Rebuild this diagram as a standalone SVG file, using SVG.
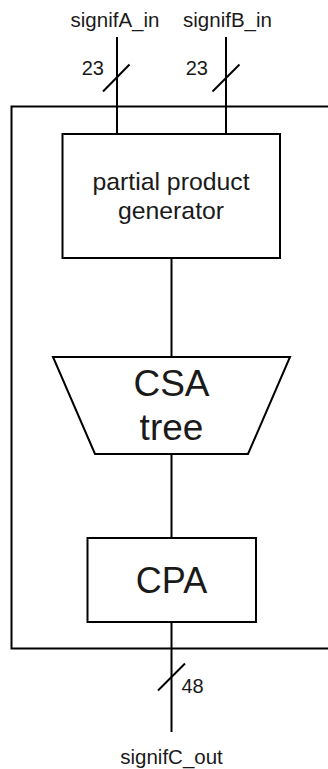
<svg xmlns="http://www.w3.org/2000/svg" width="328" height="769" viewBox="0 0 328 769">
<style>
.ln{stroke:#000;stroke-width:2;fill:none}
.bx{stroke:#000;stroke-width:2;fill:#fff}
.t{font-family:"Liberation Sans",Arial,sans-serif;fill:#1a1a1a}
.p{font-size:20.5px;text-anchor:middle}
.w{font-size:20px}
</style>
<rect width="328" height="769" fill="#fff"/>
<g id="outer"><path class="ln" d="M340 106.5 H11.5 V648.5 H340"/></g>
<g id="connectors">
<path class="ln" d="M117 37 V134"/>
<path class="ln" d="M226 37 V134"/>
<path class="ln" d="M103 91.5 L129.5 64.5"/>
<path class="ln" d="M212.5 91.5 L239.5 64.5"/>
<path class="ln" d="M171.5 258 V357"/>
<path class="ln" d="M171.5 454 V538"/>
<path class="ln" d="M171.5 622 V732"/>
<path class="ln" d="M158 690.5 L185 663.5"/>
</g>
<g id="ppg">
<rect class="bx" x="62.5" y="134" width="217.5" height="124"/>
<text class="t" x="171" y="190" font-size="24.8" text-anchor="middle">partial product</text>
<text class="t" x="171" y="219" font-size="24.8" text-anchor="middle">generator</text>
</g>
<g id="csa">
<polygon class="bx" points="53,357 290,357 248,454 95,454"/>
<text class="t" x="171.5" y="396" font-size="37" text-anchor="middle">CSA</text>
<text class="t" x="171.5" y="440" font-size="37" text-anchor="middle">tree</text>
</g>
<g id="cpa">
<rect class="bx" x="87.5" y="538" width="168.5" height="84"/>
<text class="t" x="171.5" y="593" font-size="36" text-anchor="middle">CPA</text>
</g>
<g id="labels">
<text class="t p" x="115" y="27">signifA_in</text>
<text class="t p" x="227.5" y="27">signifB_in</text>
<text class="t w" x="104" y="75" text-anchor="end">23</text>
<text class="t w" x="208" y="75" text-anchor="end">23</text>
<text class="t w" x="181.5" y="693">48</text>
<text class="t p" x="171.5" y="764">signifC_out</text>
</g>
</svg>
